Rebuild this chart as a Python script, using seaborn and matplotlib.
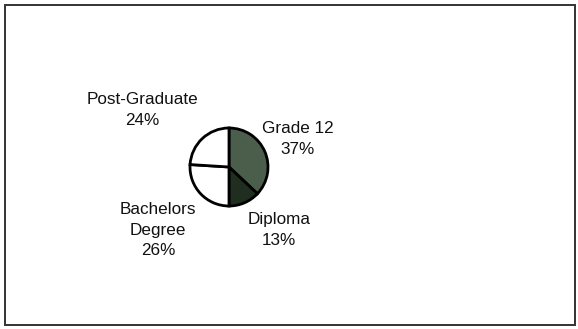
import matplotlib
matplotlib.use("Agg")
import matplotlib.pyplot as plt
from matplotlib.patches import Rectangle
import seaborn as sns

# Education level shares
categories = ["Grade 12", "Diploma", "Bachelors\nDegree", "Post-Graduate"]
shares = [37, 13, 26, 24]
wedge_colors = ["#4b5e4b", "#1f2e1f", "#ffffff", "#ffffff"]

sns.set_theme(style="white")
plt.rcParams["font.family"] = ["Liberation Sans", "DejaVu Sans"]

W, H = 578, 329
fig = plt.figure(figsize=(W / 100, H / 100), dpi=100)
ax = fig.add_axes([0, 0, 1, 1])

# outer frame
ax.add_patch(Rectangle((5, 4), 570, 320, fill=False, edgecolor="#333333", linewidth=1.4))

center = (229, 162)
radius = 39
ax.pie(shares, colors=wedge_colors, startangle=90, counterclock=False,
       center=center, radius=radius, frame=True,
       wedgeprops=dict(edgecolor="black", linewidth=2.0))
ax.set_xlim(0, W)
ax.set_ylim(0, H)
ax.axis("off")

label_pos = [(298, 190), (279, 99), (158, 99), (142, 219)]
for name, val, (x, y) in zip(categories, shares, label_pos):
    ax.text(x, y, f"{name}\n{val}%", ha="center", va="center",
            fontsize=12.3, color="#111111", linespacing=1.45)

fig.savefig("out.png", dpi=100)
